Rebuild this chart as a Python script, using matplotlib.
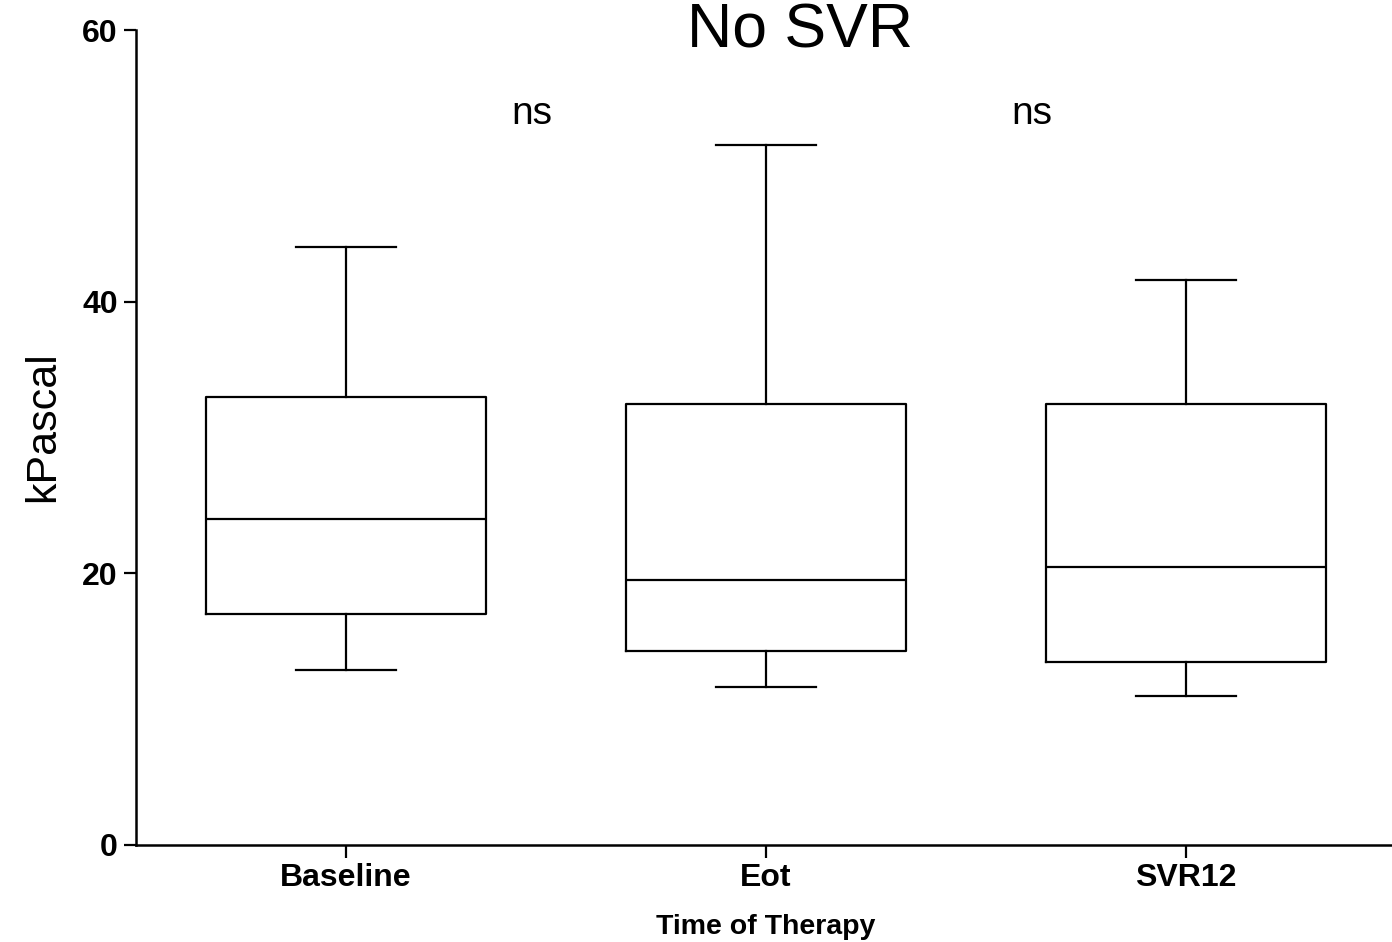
import matplotlib
matplotlib.use('Agg')
from matplotlib import pyplot as plt

plt.rcParams['font.family'] = ['Liberation Sans', 'DejaVu Sans']

# box plot values
groups = ['Baseline', 'Eot', 'SVR12']
whislo = [12.9, 11.6, 11.0]
q1 = [17.0, 14.3, 13.5]
med = [24.0, 19.5, 20.5]
q3 = [33.0, 32.5, 32.5]
whishi = [44.0, 51.5, 41.6]

# significance labels (between groups)
sig_labels = ['ns', 'ns']
sig_x = [1.443, 2.633]
sig_y = [53.8, 53.8]

yticks = [0, 20, 40, 60]

stats = []
for i in range(len(groups)):
    stats.append(dict(label=groups[i], whislo=whislo[i], q1=q1[i], med=med[i],
                      q3=q3[i], whishi=whishi[i], fliers=[]))

fig = plt.figure(figsize=(13.92, 9.42), dpi=100)
ax = fig.add_axes([136/1392, 97/942, 1260/1392, 815/942])

lw = 1.6
ax.bxp(stats, positions=[1, 2, 3], widths=0.667, showfliers=False,
       boxprops=dict(color='black', linewidth=lw),
       whiskerprops=dict(color='black', linewidth=lw),
       capprops=dict(color='black', linewidth=lw),
       medianprops=dict(color='black', linewidth=lw),
       capwidths=0.238)

for t, x, y in zip(sig_labels, sig_x, sig_y):
    ax.text(x, y, t, ha='center', va='center', fontsize=28)

ax.set_xlim(0.5, 3.5)
ax.set_ylim(0, 60)
ax.set_yticks(yticks)
ax.set_yticklabels([str(v) for v in yticks], fontsize=23, fontweight='bold')
ax.set_xticks([1, 2, 3])
ax.set_xticklabels(groups, fontsize=23, fontweight='bold')
ax.tick_params(axis='both', length=9, width=1.6, pad=4)
for s in ['top', 'right']:
    ax.spines[s].set_visible(False)
for s in ['left', 'bottom']:
    ax.spines[s].set_linewidth(1.8)

ax.set_ylabel('kPascal', fontsize=31)
ax.yaxis.set_label_coords(-0.0575, 0.513)
ax.set_xlabel('Time of Therapy', fontsize=20.5, fontweight='bold', labelpad=15)
fig.text(800/1392, 1 - 47/942, 'No SVR', ha='center', va='baseline', fontsize=45)

fig.savefig('out.png', dpi=100)
